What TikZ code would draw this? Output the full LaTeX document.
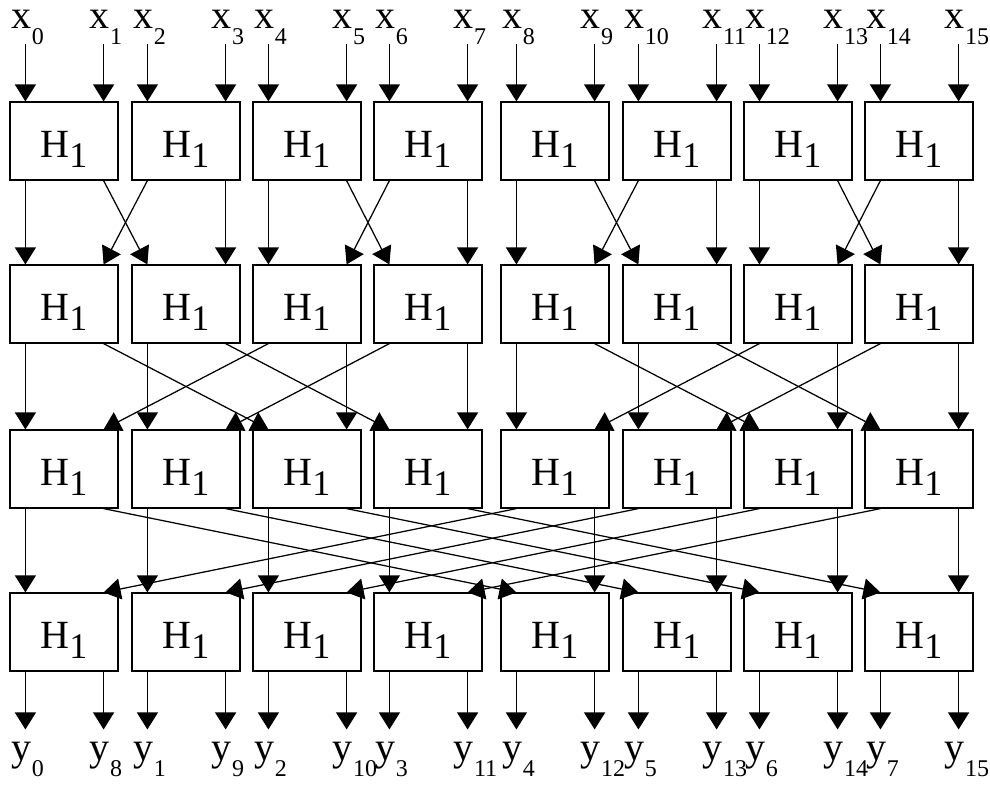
\documentclass[tikz,border=0pt]{standalone}
\usepackage{fontspec}
\setmainfont{Liberation Serif}
\usetikzlibrary{arrows.meta}
\newcommand{\bigtext}{\fontsize{40}{44}\selectfont}
\newcommand{\lbl}[2]{#1\rlap{\kern0.5pt\raisebox{-16pt}{\fontsize{24}{24}\selectfont #2}}}

\begin{document}
\begin{tikzpicture}[x=1pt,y=-1pt,
  hbox/.style={draw,line width=1.2pt,minimum width=108pt,minimum height=78pt,
    inner sep=0pt,text height=32pt,text depth=0pt,font=\bigtext},
  wire/.style={line width=1.25pt,-{Triangle[width=21pt,length=17pt]}},
  xlab/.style={anchor=base,inner sep=0pt,xshift=-4pt,font=\bigtext},
  ylab/.style={anchor=base,inner xsep=0pt,inner ysep=12pt,xshift=-4pt,font=\bigtext}]
  \useasboundingbox (0,0) rectangle (990,785);
  % H_1 blocks: four stages of eight, with their ports
  \foreach \r/\yc in {1/141,2/304,3/469,4/632}
    \foreach \c/\xc in {0/64,1/186,2/307,3/428,4/555,5/677,6/798,7/919} {
      \node[hbox] (b\r-\c) at (\xc,\yc) {H\raisebox{-10pt}{\fontsize{36}{36}\selectfont 1}};
      \coordinate (b\r-\c-il) at ([xshift=16pt]b\r-\c.north west);
      \coordinate (b\r-\c-ir) at ([xshift=-15pt]b\r-\c.north east);
      \coordinate (b\r-\c-ol) at ([xshift=16pt]b\r-\c.south west);
      \coordinate (b\r-\c-or) at ([xshift=-15pt]b\r-\c.south east);
    }
  % inputs x_0..x_15
  \foreach \c in {0,...,7} {
    \pgfmathtruncatemacro\ka{2*\c}
    \pgfmathtruncatemacro\kb{2*\c+1}
    \node[xlab] (x\ka) at (b1-\c-il |- 0,28) {\lbl{x}{\ka}};
    \node[xlab] (x\kb) at (b1-\c-ir |- 0,28) {\lbl{x}{\kb}};
    \draw[wire] (x\ka.south -| b1-\c-il) -- (b1-\c-il);
    \draw[wire] (x\kb.south -| b1-\c-ir) -- (b1-\c-ir);
  }
  % butterflies between stages, span 1, 2, 4
  \foreach \s/\d in {1/1,2/2,3/4} {
    \pgfmathtruncatemacro\nr{\s+1}
    \foreach \c in {0,...,7} {
      \pgfmathtruncatemacro\half{mod(floor(\c/\d),2)}
      \ifnum\half=0
        \pgfmathtruncatemacro\mate{\c+\d}
        \draw[wire] (b\s-\c-ol) -- (b\nr-\c-il);
        \draw[wire] (b\s-\c-or) -- (b\nr-\mate-il);
      \else
        \pgfmathtruncatemacro\mate{\c-\d}
        \draw[wire] (b\s-\c-ol) -- (b\nr-\mate-ir);
        \draw[wire] (b\s-\c-or) -- (b\nr-\c-ir);
      \fi
    }
  }
  % outputs y_0..y_15
  \foreach \c in {0,...,7} {
    \pgfmathtruncatemacro\kb{\c+8}
    \node[ylab] (y\c) at (b4-\c-ol |- 0,760) {\lbl{y}{\c}};
    \node[ylab] (y\kb) at (b4-\c-or |- 0,760) {\lbl{y}{\kb}};
    \draw[wire] (b4-\c-ol) -- (y\c.north -| b4-\c-ol);
    \draw[wire] (b4-\c-or) -- (y\kb.north -| b4-\c-or);
  }
\end{tikzpicture}
\end{document}
